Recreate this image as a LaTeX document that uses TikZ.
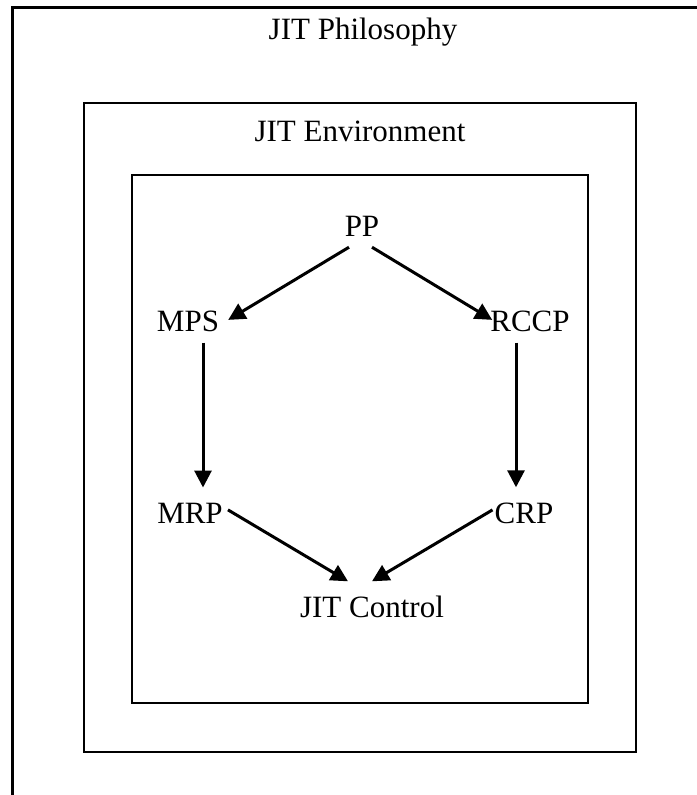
\documentclass[tikz,border=0pt]{standalone}
\usepackage{fontspec}
\setmainfont{Liberation Serif}
\usetikzlibrary{calc,arrows.meta}

\begin{document}
\begin{tikzpicture}[x=1pt,y=-1pt,>={Triangle[length=17pt,width=17pt]},
	lbl/.style={inner sep=0pt,anchor=base,font=\fontsize{31}{37}\selectfont},
	frame/.style={line width=2.7pt},
	flow/.style={line width=3pt,->}]

	\useasboundingbox (0,0) rectangle (696,795);

	% Draw the three nested frames (outer one runs off the page)
	\draw[line width=3pt] (12,7) rectangle (740,840);
	\draw[frame] (84,103) rectangle (636,752);
	\draw[frame] (132,175) rectangle (588,703);

	% Frame titles
	\node[lbl] (philosophy) at (363,39) {JIT Philosophy};
	\node[lbl] (environment) at (360,141) {JIT Environment};

	% Planning levels
	\node[lbl] (pp) at (362,236) {PP};
	\node[lbl] (mps) at (188,331) {MPS};
	\node[lbl] (rccp) at (530,331) {RCCP};
	\node[lbl] (mrp) at (190,523) {MRP};
	\node[lbl] (crp) at (524,523) {CRP};
	\node[lbl] (control) at (372,617) {JIT Control};

	% Draw the flow between the levels
	\draw[flow] ($(pp.south)+(-13,11)$) -- ($(mps.east)+(9,-1)$);
	\draw[flow] ($(pp.south)+(10,11)$) -- ($(rccp.west)+(2,-1)$);
	\draw[flow] ($(mps.south)+(15,11)$) -- ($(mrp.north)+(13,-15)$);
	\draw[flow] ($(rccp.south)+(-14,11)$) -- ($(crp.north)+(-8,-15)$);
	\draw[flow] ($(mrp.east)+(5,-3)$) -- ($(control.north)+(-24,-14)$);
	\draw[flow] ($(crp.west)+(-2,-3)$) -- ($(control.north)+(0,-14)$);

\end{tikzpicture}
\end{document}
